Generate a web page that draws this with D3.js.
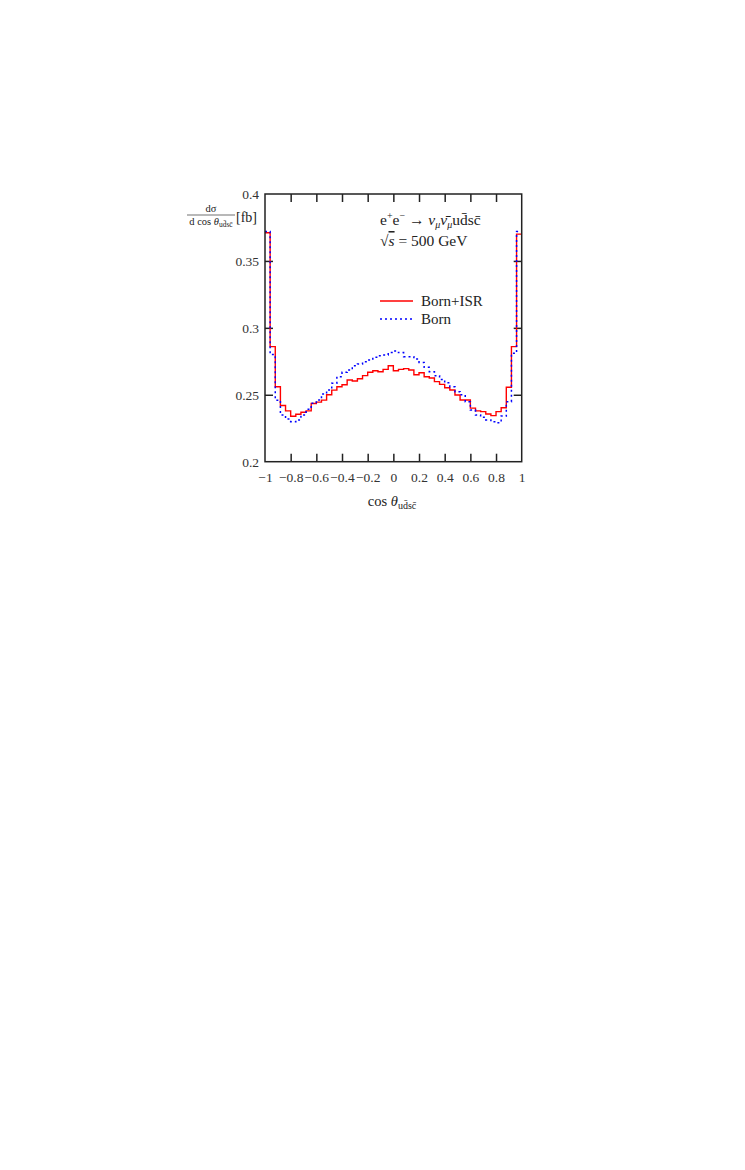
<!DOCTYPE html>
<html>
<head>
  <script src="https://d3js.org/d3.v7.min.js"></script>
  <style>
    body { margin: 0; background: #fff; }
    text { font-family: "Liberation Serif", "DejaVu Serif", serif; fill: #222; }
    .axis path { display: none; }
    .axis line { stroke: #222; stroke-width: 1.5px; }
    .axis text { font-size: 13.5px; fill: #333; }
  </style>
</head>
<body>
  <div id="chart"></div>
  <script>
    // bin edges: 50 bins of width 0.04 from -1 to 1
    var binEdges = d3.range(51).map(function (i) { return -1 + i * 0.04; });

    // Born+ISR (red, solid)
    var bornIsr = [
      0.371, 0.286, 0.256, 0.242, 0.238, 0.234, 0.2355, 0.237, 0.238, 0.2435,
      0.2445, 0.246, 0.250, 0.2535, 0.256, 0.2575, 0.261, 0.2603, 0.262, 0.2643,
      0.2668, 0.268, 0.2672, 0.269, 0.2717, 0.268, 0.269, 0.2695, 0.2685, 0.265,
      0.2665, 0.2635, 0.2625, 0.2598, 0.2578, 0.2553, 0.2536, 0.2498, 0.2461, 0.2461,
      0.240, 0.238, 0.2374, 0.2356, 0.2344, 0.2374, 0.2403, 0.2556, 0.286, 0.370
    ];

    // Born (blue, dotted)
    var born = [
      0.372, 0.280, 0.246, 0.2349, 0.2319, 0.2299, 0.2312, 0.2349, 0.2391, 0.2436,
      0.2461, 0.2506, 0.2536, 0.2586, 0.2635, 0.2668, 0.2685, 0.2717, 0.2730, 0.2747,
      0.2760, 0.2780, 0.2792, 0.2797, 0.2815, 0.2827, 0.2815, 0.2785, 0.2785, 0.2767,
      0.2742, 0.2705, 0.2672, 0.2643, 0.2615, 0.2590, 0.2560, 0.2523, 0.250, 0.2448,
      0.2386, 0.2349, 0.2332, 0.2312, 0.2299, 0.2291, 0.2341, 0.2448, 0.281, 0.372
    ];

    var xTicks = [-1, -0.8, -0.6, -0.4, -0.2, 0, 0.2, 0.4, 0.6, 0.8, 1];
    var yTicks = [0.2, 0.25, 0.3, 0.35, 0.4];

    var svg = d3.select("#chart").append("svg")
      .attr("width", 745)
      .attr("height", 1170);

    var x = d3.scaleLinear().domain([-1, 1]).range([265, 521.7]);
    var y = d3.scaleLinear().domain([0.2, 0.4]).range([461.7, 194]);

    var fmt = function (d) { return String(d).replace("-", "\u2212"); };

    // bottom axis with labels, ticks pointing inward
    svg.append("g")
      .attr("class", "axis")
      .attr("transform", "translate(0," + y(0.2) + ")")
      .call(d3.axisBottom(x).tickValues(xTicks).tickSize(-8).tickPadding(11).tickFormat(fmt))
      .call(function (g) {
        g.selectAll(".tick").filter(function (d) { return d === -1 || d === 1; }).select("line").remove();
      });

    // top axis, ticks only
    svg.append("g")
      .attr("class", "axis")
      .attr("transform", "translate(0," + y(0.4) + ")")
      .call(d3.axisTop(x).tickValues(xTicks.slice(1, -1)).tickSize(-8).tickFormat(""));

    // left axis with labels
    svg.append("g")
      .attr("class", "axis")
      .attr("transform", "translate(" + x(-1) + ",0)")
      .call(d3.axisLeft(y).tickValues(yTicks).tickSize(-8).tickPadding(6).tickFormat(function (d) { return d; }))
      .call(function (g) {
        g.selectAll(".tick").filter(function (d) { return d === 0.2 || d === 0.4; }).select("line").remove();
      });

    // right axis, ticks only
    svg.append("g")
      .attr("class", "axis")
      .attr("transform", "translate(" + x(1) + ",0)")
      .call(d3.axisRight(y).tickValues(yTicks.slice(1, -1)).tickSize(-8).tickFormat(""));

    var step = d3.line()
      .x(function (d) { return x(d[0]); })
      .y(function (d) { return y(d[1]); })
      .curve(d3.curveStepAfter);

    function histPoints(vals) {
      var pts = vals.map(function (v, i) { return [binEdges[i], v]; });
      pts.push([1, vals[vals.length - 1]]);
      return pts;
    }

    svg.append("path")
      .datum(histPoints(bornIsr))
      .attr("d", step)
      .attr("fill", "none")
      .attr("stroke", "#ff0000")
      .attr("stroke-width", 1.4);

    svg.append("path")
      .datum(histPoints(born))
      .attr("d", step)
      .attr("fill", "none")
      .attr("stroke", "#0000ff")
      .attr("stroke-width", 1.5)
      .attr("stroke-dasharray", "2,3");

    // frame
    svg.append("rect")
      .attr("x", x(-1))
      .attr("y", y(0.4))
      .attr("width", x(1) - x(-1))
      .attr("height", y(0.2) - y(0.4))
      .attr("fill", "none")
      .attr("stroke", "#222")
      .attr("stroke-width", 1.5);

    // legend
    var legend = [
      { label: "Born+ISR", color: "#ff0000", dash: null, yPos: 301 },
      { label: "Born", color: "#0000ff", dash: "2,3", yPos: 319 }
    ];
    legend.forEach(function (l) {
      svg.append("line")
        .attr("x1", 380).attr("x2", 413)
        .attr("y1", l.yPos).attr("y2", l.yPos)
        .attr("stroke", l.color)
        .attr("stroke-width", l.dash ? 1.5 : 1.4)
        .attr("stroke-dasharray", l.dash);
      svg.append("text")
        .attr("x", 421)
        .attr("y", l.yPos + 5)
        .attr("font-size", 15)
        .text(l.label);
    });

    // process annotation
    var proc = svg.append("text").attr("x", 380).attr("y", 225).attr("font-size", 15.5);
    proc.append("tspan").text("e");
    proc.append("tspan").attr("dy", -6).attr("font-size", 10).text("+");
    proc.append("tspan").attr("dy", 6).text("e");
    proc.append("tspan").attr("dy", -6).attr("font-size", 10).text("\u2212");
    proc.append("tspan").attr("dy", 6).text(" \u2192 ");
    proc.append("tspan").attr("font-style", "italic").text("\u03bd");
    proc.append("tspan").attr("dy", 3).attr("font-size", 10).attr("font-style", "italic").text("\u03bc");
    proc.append("tspan").attr("dy", -3).attr("font-style", "italic").text("\u03bd\u0304");
    proc.append("tspan").attr("dy", 3).attr("font-size", 10).attr("font-style", "italic").text("\u03bc");
    proc.append("tspan").attr("dy", -3).text("ud\u0304sc\u0304");

    var sq = svg.append("text").attr("x", 380).attr("y", 246).attr("font-size", 15.5);
    sq.append("tspan").text("\u221a");
    sq.append("tspan").attr("font-style", "italic").attr("text-decoration", "overline").text("s");
    sq.append("tspan").text(" = 500 GeV");

    // y label: fraction
    svg.append("text")
      .attr("x", 211).attr("y", 212)
      .attr("text-anchor", "middle")
      .attr("font-size", 10.5)
      .text("d\u03c3");
    svg.append("line")
      .attr("x1", 187).attr("x2", 235)
      .attr("y1", 215).attr("y2", 215)
      .attr("stroke", "#333").attr("stroke-width", 0.7);
    var den = svg.append("text")
      .attr("x", 211).attr("y", 225)
      .attr("text-anchor", "middle")
      .attr("font-size", 10.5);
    den.append("tspan").text("d cos ");
    den.append("tspan").attr("font-style", "italic").text("\u03b8");
    den.append("tspan").attr("dy", 2).attr("font-size", 7.5).text("ud\u0304sc\u0304");
    svg.append("text")
      .attr("x", 236).attr("y", 222)
      .attr("font-size", 14)
      .text("[fb]");

    // x label
    var xl = svg.append("text")
      .attr("x", 392).attr("y", 506)
      .attr("text-anchor", "middle")
      .attr("font-size", 14.5);
    xl.append("tspan").text("cos ");
    xl.append("tspan").attr("font-style", "italic").text("\u03b8");
    xl.append("tspan").attr("dy", 3).attr("font-size", 10).text("ud\u0304sc\u0304");
  </script>
</body>
</html>
